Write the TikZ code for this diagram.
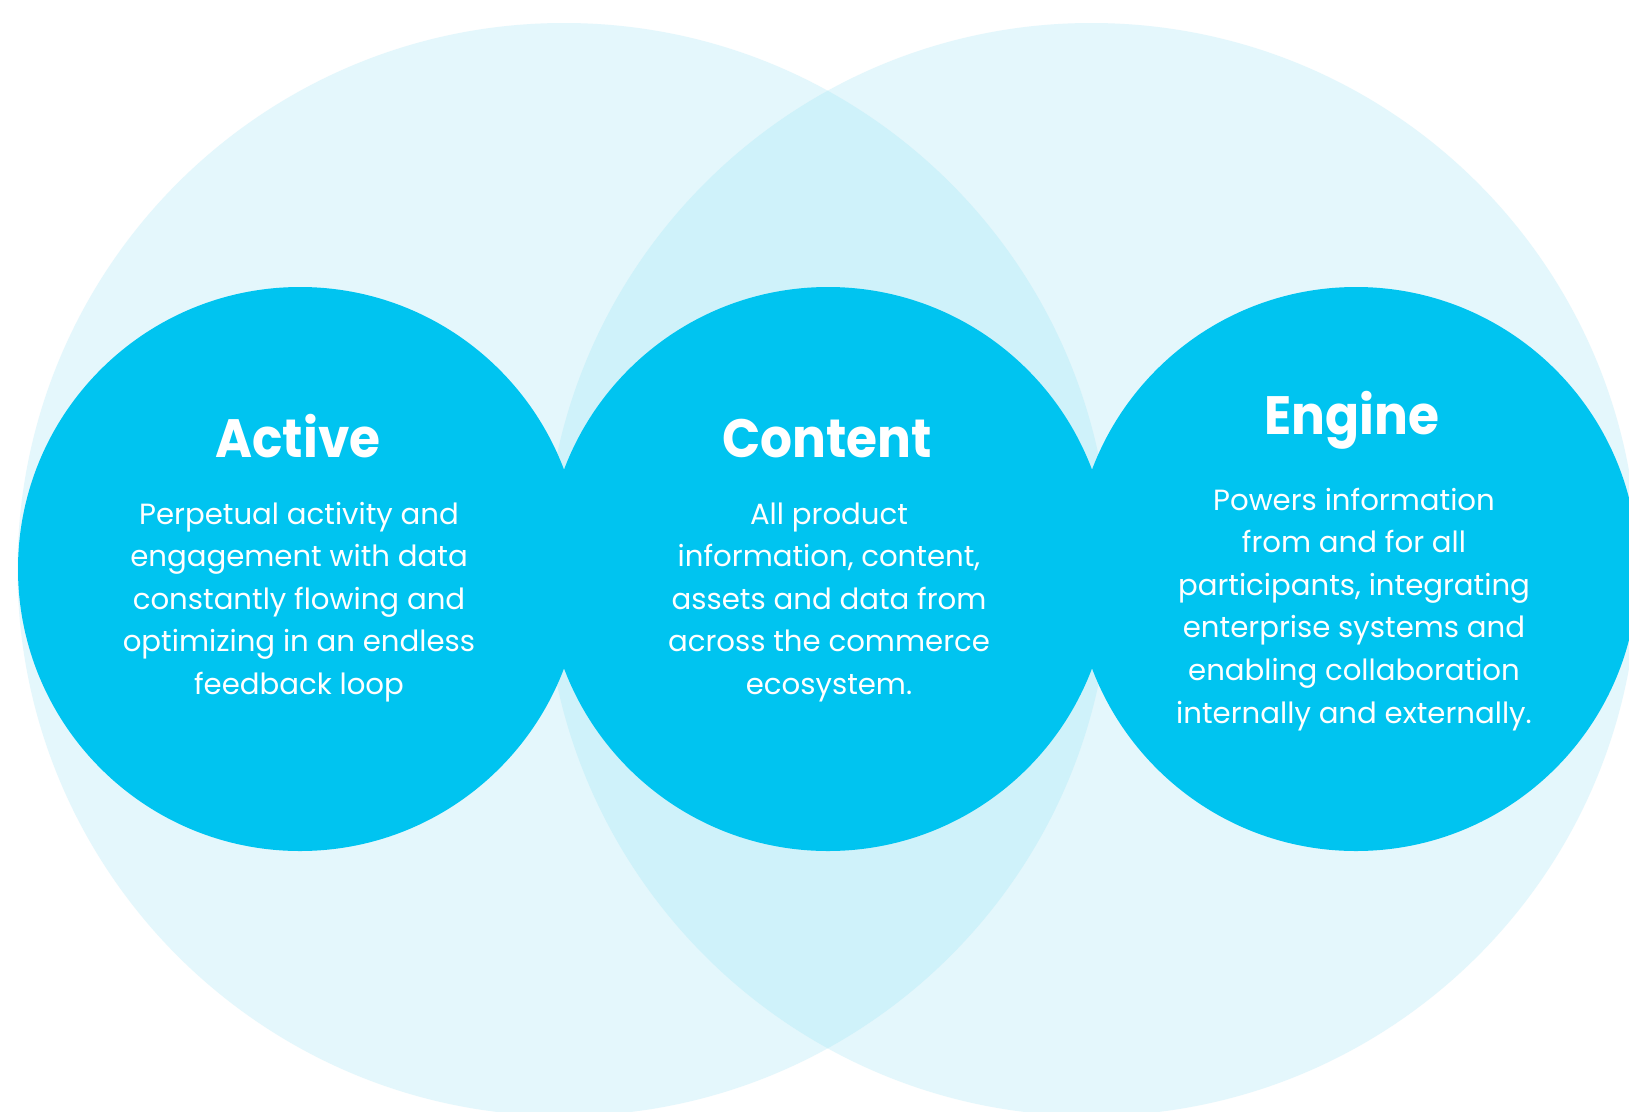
\documentclass[tikz,border=0pt]{standalone}
\usepackage{fontspec}
\setmainfont{Poppins}
\newfontfamily\titlefont[FakeStretch=0.93]{Poppins}
\definecolor{cyandark}{RGB}{0,196,240}
\definecolor{cyanlight}{RGB}{228,247,252}
\definecolor{cyanmid}{RGB}{207,242,250}
\begin{document}
\begin{tikzpicture}[x=1pt,y=-1pt,
  bigcirc/.style={circle,inner sep=0pt,minimum size=1093pt,fill=cyanlight},
  smallcirc/.style={circle,inner sep=0pt,minimum size=564pt,fill=cyandark},
  titletxt/.style={text=white,font=\titlefont\fontsize{54}{60}\selectfont\bfseries,anchor=base,inner sep=0pt},
  bodytxt/.style={text=white,font=\fontsize{29.2}{42.6}\selectfont,align=center,anchor=base,inner sep=0pt}]
\useasboundingbox (0,0) rectangle (1629,1111);
\clip (0,0) rectangle (1629,1111);
\fill[white] (0,0) rectangle (1629,1111);
% large background circles
\node[bigcirc] (bigL) at (564,569.5) {};
\node[bigcirc] (bigR) at (1091.4,569.5) {};
\begin{scope}
  \clip (bigL.center) circle (546.5pt);
  \fill[cyanmid] (bigR.center) circle (546.5pt);
\end{scope}
% small circles
\node[smallcirc] (active) at (300,569) {};
\node[smallcirc] (content) at (828,569) {};
\node[smallcirc] (engine) at (1356,569) {};
% titles
\node[titletxt] (activeT) at (298,457) {Active};
\node[titletxt] (contentT) at (827,457) {Content};
\node[titletxt] (engineT) at (1352,434) {Engine};
% bodies (anchor = baseline of last line)
\node[bodytxt] (activeB) at (299,694.4) {Perpetual activity and\\engagement with data\\constantly flowing and\\optimizing in an endless\\feedback loop};
\node[bodytxt] (contentB) at (829,694.4) {All product\\information, content,\\assets and data from\\across the commerce\\ecosystem.};
\node[bodytxt] (engineB) at (1354,723) {Powers information\\from and for all\\participants, integrating\\enterprise systems and\\enabling collaboration\\internally and externally.};
\end{tikzpicture}
\end{document}
